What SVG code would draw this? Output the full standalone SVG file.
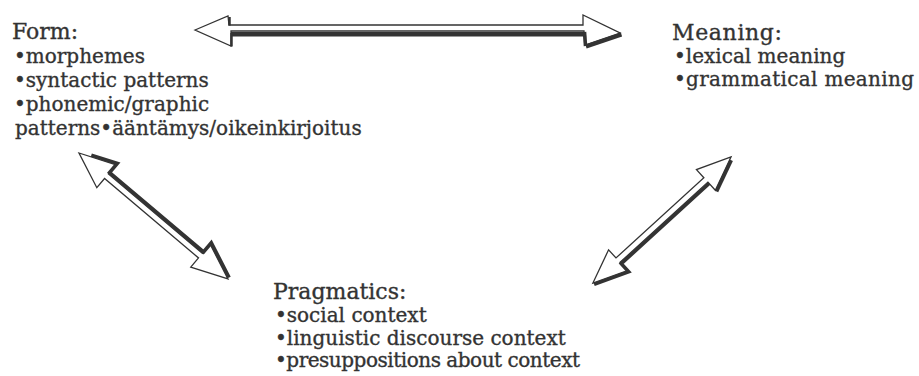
<svg xmlns="http://www.w3.org/2000/svg" width="919" height="376" viewBox="0 0 919 376">
  <style>
    .t { font-family: "DejaVu Serif", "Liberation Serif", serif; fill: #333; stroke: #333; stroke-width: 0.35; }
    .title { font-size: 22px; }
    .item { font-size: 20px; }
    .outline { fill: #fff; stroke: #333; stroke-width: 1.3; stroke-linejoin: miter; }
    .shadow { fill: none; stroke: #333; stroke-width: 3.6; stroke-linejoin: miter; stroke-linecap: butt; }
  </style>
  <rect width="919" height="376" fill="#fff"/>

  <g id="connectors">
    <g id="arrow-form-meaning">
      <polygon class="outline" points="195,30 228,16 229,25 583,25 583,15 620,33 585,45 584,31 231,31 231,46"/>
      <line class="shadow" x1="231" y1="34.3" x2="584" y2="34.3" style="stroke-width:4.6"/>
      <line class="shadow" x1="586" y1="46.5" x2="621.5" y2="34.5" style="stroke-width:4"/>
      <line class="shadow" x1="584.5" y1="32" x2="585.5" y2="46"/>
      <line class="shadow" x1="229.5" y1="17" x2="229.5" y2="25.5" style="stroke-width:2.5"/>
      <line class="shadow" x1="231.5" y1="33" x2="231.5" y2="46.5" style="stroke-width:2.5"/>
    </g>
    <g id="arrow-form-pragmatics" transform="translate(79,153) rotate(40.2)">
      <polygon class="outline" points="0,0 36,-15 36,-3 159,-3 159,-15 195,0 159,15 159,3 36,3 36,15"/>
      <polyline class="shadow" transform="translate(0,-1.8)" points="10.8,-4.5 36,-15 36,-3 159,-3 159,-15 195,0"/>
    </g>
    <g id="arrow-meaning-pragmatics" transform="translate(731,157) rotate(137.6)">
      <polygon class="outline" points="0,0 34,-14 34,-3 153,-3 153,-14 187,0 153,14 153,3 34,3 34,14"/>
      <polyline class="shadow" transform="translate(0,-1.8)" points="2,-0.8 34,-14"/>
      <polyline class="shadow" transform="translate(0,-1.8)" points="34,-3 153,-3 153,-14 187,0"/>
    </g>
  </g>

  <g id="node-form">
    <text class="t title" x="12" y="39">Form:</text>
    <text class="t item" x="14" y="63">•morphemes</text>
    <text class="t item" x="14" y="87">•syntactic patterns</text>
    <text class="t item" x="14" y="111">•phonemic/graphic</text>
    <text class="t item" x="15" y="135">patterns•ääntämys/oikeinkirjoitus</text>
  </g>

  <g id="node-meaning">
    <text class="t title" x="672" y="40" textLength="110">Meaning:</text>
    <text class="t item" x="674" y="63">•lexical meaning</text>
    <text class="t item" x="674" y="86" textLength="240">•grammatical meaning</text>
  </g>

  <g id="node-pragmatics">
    <text class="t title" x="273" y="299">Pragmatics:</text>
    <text class="t item" x="275" y="322">•social context</text>
    <text class="t item" x="275" y="345">•linguistic discourse context</text>
    <text class="t item" x="275" y="367" textLength="305">•presuppositions about context</text>
  </g>
</svg>
